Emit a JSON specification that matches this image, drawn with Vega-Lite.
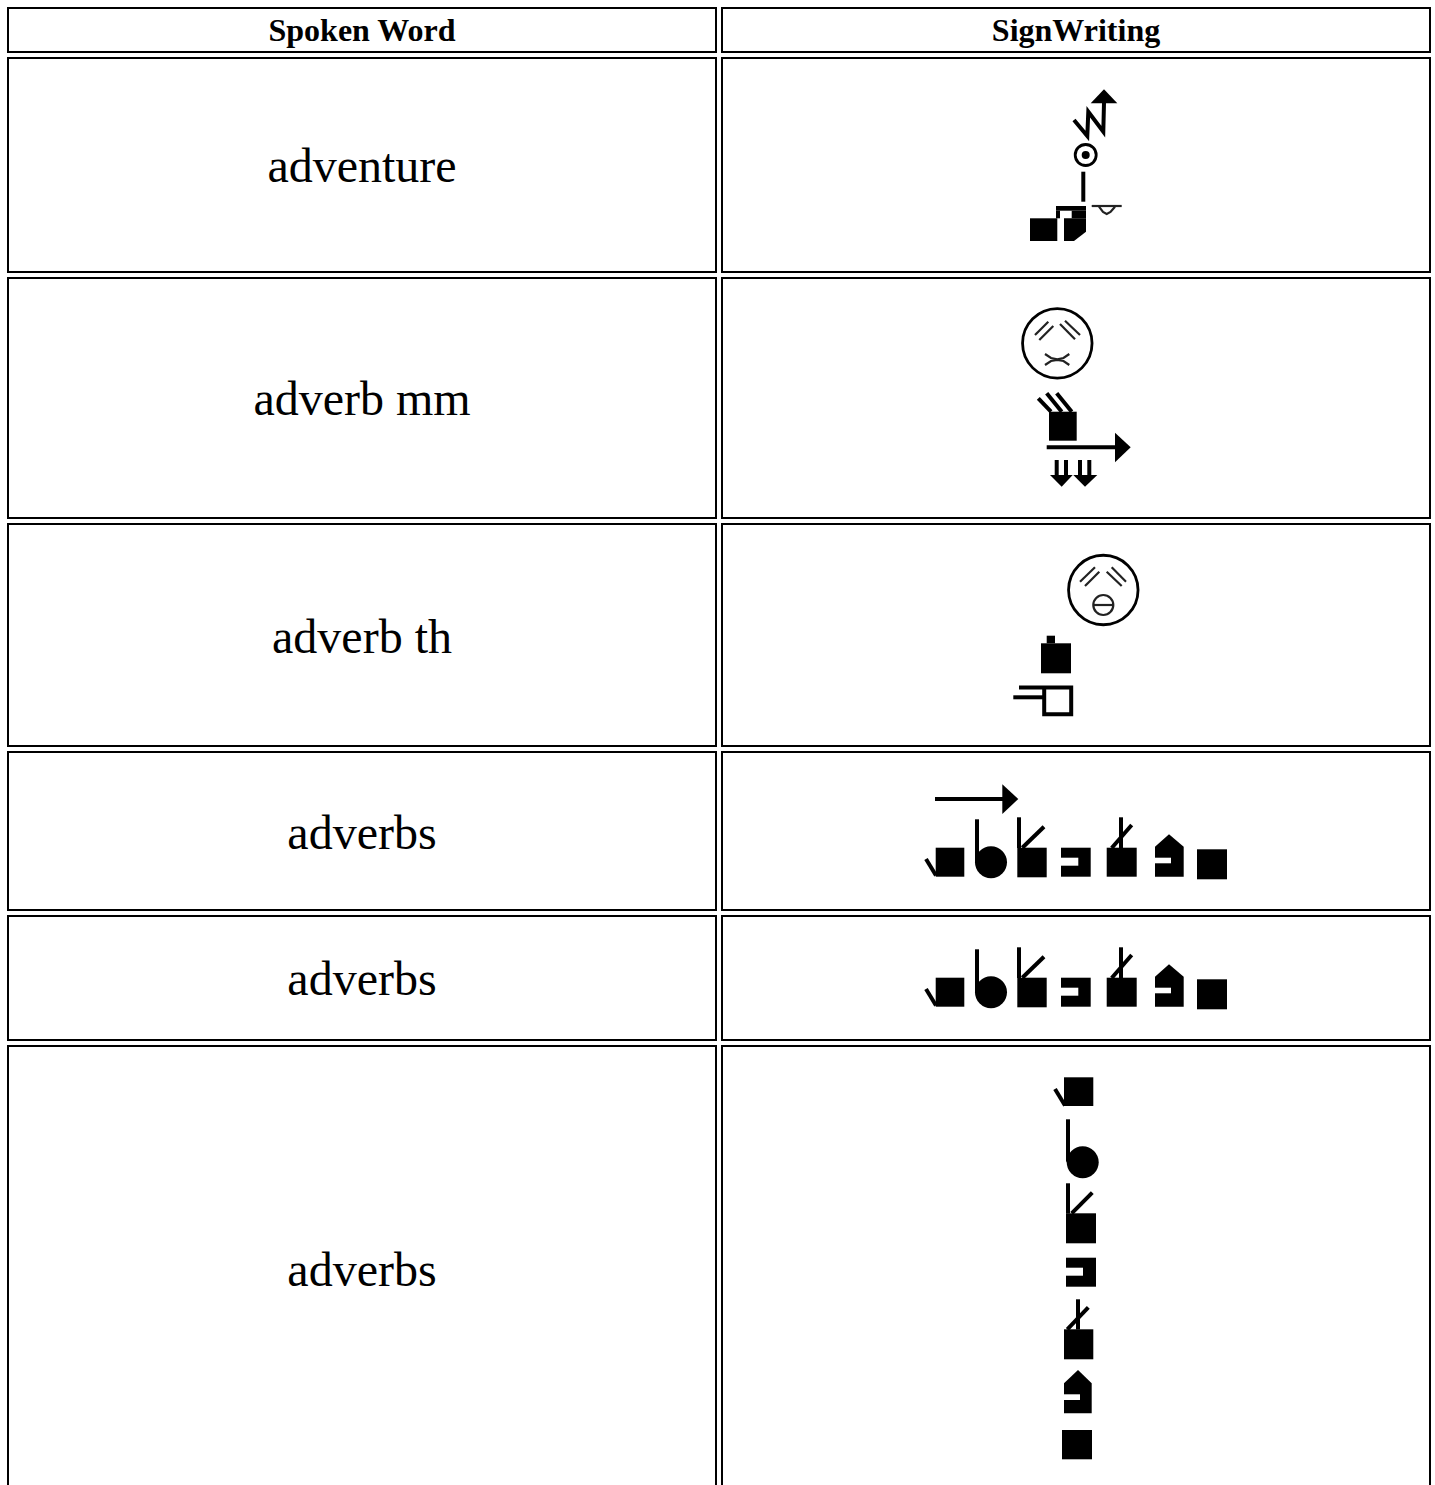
{"$schema":"https://vega.github.io/schema/vega-lite/v6.json","width":1435,"height":1485,"padding":0,"autosize":{"type":"fit","contains":"padding"},"background":"white","view":{"stroke":null},
"datasets":{
"cells":[{"x":8,"x2":716,"y":8,"y2":52},{"x":722,"x2":1430,"y":8,"y2":52},{"x":8,"x2":716,"y":58,"y2":272},{"x":722,"x2":1430,"y":58,"y2":272},{"x":8,"x2":716,"y":278,"y2":518},{"x":722,"x2":1430,"y":278,"y2":518},{"x":8,"x2":716,"y":524,"y2":746},{"x":722,"x2":1430,"y":524,"y2":746},{"x":8,"x2":716,"y":752,"y2":910},{"x":722,"x2":1430,"y":752,"y2":910},{"x":8,"x2":716,"y":916,"y2":1040},{"x":722,"x2":1430,"y":916,"y2":1040},{"x":8,"x2":716,"y":1046,"y2":1520},{"x":722,"x2":1430,"y":1046,"y2":1520}],
"headers":[{"label":"Spoken Word","x":362,"y":41},{"label":"SignWriting","x":1076,"y":41}],
"words":[{"label":"adventure","x":362,"y":182},{"label":"adverb mm","x":362,"y":415},{"label":"adverb th","x":362,"y":653},{"label":"adverbs","x":362,"y":849},{"label":"adverbs","x":362,"y":995},{"label":"adverbs","x":362,"y":1286}],
"ink":[
{"g":"a1","x":1090.7,"y":103.3,"y2":103.3},{"g":"a1","x":1104,"y":89.3,"y2":103.3},{"g":"a1","x":1117.3,"y":103.3,"y2":103.3},
{"g":"a2","x":1030,"y":218.3,"y2":241},{"g":"a2","x":1057.3,"y":218.3,"y2":241},
{"g":"a3","x":1056,"y":206,"y2":210.7},{"g":"a3","x":1086,"y":206,"y2":210.7},
{"g":"a4","x":1056,"y":210.7,"y2":218.3},{"g":"a4","x":1060,"y":210.7,"y2":218.3},
{"g":"a5","x":1071.7,"y":210.7,"y2":218.3},{"g":"a5","x":1086,"y":210.7,"y2":218.3},
{"g":"a6","x":1064,"y":218.3,"y2":241},{"g":"a6","x":1074,"y":218.3,"y2":241},{"g":"a6","x":1086,"y":218.3,"y2":231.7},
{"g":"b1","x":1049,"y":411.7,"y2":440.7},{"g":"b1","x":1076.7,"y":411.7,"y2":440.7},
{"g":"b2","x":1115,"y":432.7,"y2":462.3},{"g":"b2","x":1130.7,"y":447.3,"y2":447.3},
{"g":"b3","x":1050,"y":475,"y2":475},{"g":"b3","x":1061.7,"y":475,"y2":486.7},{"g":"b3","x":1072.7,"y":475,"y2":475},
{"g":"b4","x":1073.3,"y":475,"y2":475},{"g":"b4","x":1085,"y":475,"y2":486.7},{"g":"b4","x":1097.3,"y":475,"y2":475},
{"g":"c1","x":1041,"y":643.3,"y2":673.3},{"g":"c1","x":1071,"y":643.3,"y2":673.3},
{"g":"c2","x":1046.7,"y":635.7,"y2":643.3},{"g":"c2","x":1055,"y":635.7,"y2":643.3},
{"g":"d0","x":1002.3,"y":784.3,"y2":814},{"g":"d0","x":1018.3,"y":799,"y2":799},
{"g":"d1","x":935.7,"y":847.7,"y2":876.7},{"g":"d1","x":964.3,"y":847.7,"y2":876.7},
{"g":"d3","x":1017.3,"y":847.7,"y2":877.3},{"g":"d3","x":1046.7,"y":847.7,"y2":877.3},
{"g":"d4","x":1061,"y":847.7,"y2":876.7},{"g":"d4","x":1090.7,"y":847.7,"y2":876.7},
{"g":"d5","x":1106.7,"y":847.7,"y2":876.7},{"g":"d5","x":1136.7,"y":847.7,"y2":876.7},
{"g":"d6","x":1155,"y":846.7,"y2":876.7},{"g":"d6","x":1169,"y":834.3,"y2":876.7},{"g":"d6","x":1183.7,"y":846.7,"y2":876.7},
{"g":"d7","x":1197,"y":849.3,"y2":879.3},{"g":"d7","x":1227,"y":849.3,"y2":879.3},
{"g":"e1","x":935.7,"y":977.7,"y2":1006.7},{"g":"e1","x":964.3,"y":977.7,"y2":1006.7},
{"g":"e3","x":1017.3,"y":977.7,"y2":1007.3},{"g":"e3","x":1046.7,"y":977.7,"y2":1007.3},
{"g":"e4","x":1061,"y":977.7,"y2":1006.7},{"g":"e4","x":1090.7,"y":977.7,"y2":1006.7},
{"g":"e5","x":1106.7,"y":977.7,"y2":1006.7},{"g":"e5","x":1136.7,"y":977.7,"y2":1006.7},
{"g":"e6","x":1155,"y":976.7,"y2":1006.7},{"g":"e6","x":1169,"y":964.3,"y2":1006.7},{"g":"e6","x":1183.7,"y":976.7,"y2":1006.7},
{"g":"e7","x":1197,"y":979.3,"y2":1009.3},{"g":"e7","x":1227,"y":979.3,"y2":1009.3},
{"g":"f1","x":1064,"y":1077.3,"y2":1106},{"g":"f1","x":1093.3,"y":1077.3,"y2":1106},
{"g":"f3","x":1066,"y":1213.3,"y2":1243.3},{"g":"f3","x":1096,"y":1213.3,"y2":1243.3},
{"g":"f4","x":1066,"y":1257.7,"y2":1286.7},{"g":"f4","x":1096,"y":1257.7,"y2":1286.7},
{"g":"f5","x":1064,"y":1329.3,"y2":1359.3},{"g":"f5","x":1093.3,"y":1329.3,"y2":1359.3},
{"g":"f6","x":1064,"y":1383.3,"y2":1413.3},{"g":"f6","x":1078,"y":1370,"y2":1413.3},{"g":"f6","x":1091.7,"y":1383.3,"y2":1413.3},
{"g":"f7","x":1062,"y":1430,"y2":1459.3},{"g":"f7","x":1092,"y":1430,"y2":1459.3}
],
"paper":[
{"g":"p1","x":1060,"y":857.7,"y2":865.7},{"g":"p1","x":1078.3,"y":857.7,"y2":865.7},
{"g":"p2","x":1154,"y":857.7,"y2":863.3},{"g":"p2","x":1171,"y":857.7,"y2":863.3},
{"g":"p3","x":1060,"y":987.7,"y2":995.7},{"g":"p3","x":1078.3,"y":987.7,"y2":995.7},
{"g":"p4","x":1154,"y":987.7,"y2":993.3},{"g":"p4","x":1171,"y":987.7,"y2":993.3},
{"g":"p5","x":1065,"y":1267.7,"y2":1275.7},{"g":"p5","x":1083,"y":1267.7,"y2":1275.7},
{"g":"p6","x":1063,"y":1394.3,"y2":1400},{"g":"p6","x":1080,"y":1394.3,"y2":1400}
],
"dots":[{"x":1085.7,"y":155}],
"balls":[{"x":991,"y":862.3},{"x":991,"y":992.3},{"x":1082.7,"y":1162.3}],
"eyes":[{"x":1085.7,"y":155}],
"faces":[{"x":1057.3,"y":343.3},{"x":1103.3,"y":590}],
"mouths":[{"x":1103.3,"y":605}],
"heavy":[
{"g":"z","s":0,"x":1074,"y":120},{"g":"z","s":1,"x":1087.3,"y":136},{"g":"z","s":2,"x":1088.3,"y":111.7},{"g":"z","s":3,"x":1103.3,"y":131.7},{"g":"z","s":4,"x":1104,"y":102.7},
{"g":"v","s":0,"x":1083.3,"y":171.7},{"g":"v","s":1,"x":1083.3,"y":201.7},
{"g":"f1","s":0,"x":1038.3,"y":398.3},{"g":"f1","s":1,"x":1051,"y":411.7},
{"g":"f2","s":0,"x":1046.7,"y":393.3},{"g":"f2","s":1,"x":1061.7,"y":411.7},
{"g":"f3","s":0,"x":1056.7,"y":393.3},{"g":"f3","s":1,"x":1071.7,"y":411.7},
{"g":"ar","s":0,"x":1046.7,"y":447.3},{"g":"ar","s":1,"x":1116.7,"y":447.3},
{"g":"s1","s":0,"x":1056.7,"y":460},{"g":"s1","s":1,"x":1056.7,"y":476},
{"g":"s2","s":0,"x":1066,"y":460},{"g":"s2","s":1,"x":1066,"y":476},
{"g":"s3","s":0,"x":1080,"y":460},{"g":"s3","s":1,"x":1080,"y":476},
{"g":"s4","s":0,"x":1089.3,"y":460},{"g":"s4","s":1,"x":1089.3,"y":476},
{"g":"wh","s":0,"x":1019,"y":687.5},{"g":"wh","s":1,"x":1071.2,"y":687.5},{"g":"wh","s":2,"x":1071.2,"y":714.2},{"g":"wh","s":3,"x":1044.2,"y":714.2},{"g":"wh","s":4,"x":1044.2,"y":687.5},
{"g":"wm","s":0,"x":1013.3,"y":697.3},{"g":"wm","s":1,"x":1044,"y":697.3},
{"g":"d0","s":0,"x":935,"y":799},{"g":"d0","s":1,"x":1003.3,"y":799},
{"g":"d1","s":0,"x":926,"y":859},{"g":"d1","s":1,"x":936,"y":875.5},
{"g":"d2","s":0,"x":977,"y":819.3},{"g":"d2","s":1,"x":977,"y":862},
{"g":"d3","s":0,"x":1019,"y":817.3},{"g":"d3","s":1,"x":1019,"y":848},
{"g":"d3b","s":0,"x":1022.3,"y":847.7},{"g":"d3b","s":1,"x":1044,"y":826.7},
{"g":"d5","s":0,"x":1121,"y":817.3},{"g":"d5","s":1,"x":1121,"y":848},
{"g":"d5b","s":0,"x":1111.7,"y":848},{"g":"d5b","s":1,"x":1131.7,"y":825},
{"g":"e1","s":0,"x":926,"y":989},{"g":"e1","s":1,"x":936,"y":1005.5},
{"g":"e2","s":0,"x":977,"y":949.3},{"g":"e2","s":1,"x":977,"y":992},
{"g":"e3","s":0,"x":1019,"y":947.3},{"g":"e3","s":1,"x":1019,"y":978},
{"g":"e3b","s":0,"x":1022.3,"y":977.7},{"g":"e3b","s":1,"x":1044,"y":956.7},
{"g":"e5","s":0,"x":1121,"y":947.3},{"g":"e5","s":1,"x":1121,"y":978},
{"g":"e5b","s":0,"x":1111.7,"y":978},{"g":"e5b","s":1,"x":1131.7,"y":955},
{"g":"g1","s":0,"x":1055,"y":1089},{"g":"g1","s":1,"x":1065,"y":1105.5},
{"g":"g2","s":0,"x":1068,"y":1119.3},{"g":"g2","s":1,"x":1068,"y":1161.7},
{"g":"g3","s":0,"x":1068,"y":1183.3},{"g":"g3","s":1,"x":1068,"y":1213.5},
{"g":"g3b","s":0,"x":1071.7,"y":1213.3},{"g":"g3b","s":1,"x":1092.3,"y":1192.7},
{"g":"g5","s":0,"x":1078,"y":1299.3},{"g":"g5","s":1,"x":1078,"y":1329.5},
{"g":"g5b","s":0,"x":1067.3,"y":1329.3},{"g":"g5b","s":1,"x":1088.3,"y":1307.3}
],
"light":[
{"g":"h","s":0,"x":1091.7,"y":206},{"g":"h","s":1,"x":1121.7,"y":206},
{"g":"arc","s":0,"x":1099,"y":206.7},{"g":"arc","s":1,"x":1103,"y":212},{"g":"arc","s":2,"x":1106.7,"y":214},{"g":"arc","s":3,"x":1110.5,"y":212},{"g":"arc","s":4,"x":1115,"y":206.7},
{"g":"b1","s":0,"x":1035,"y":335},{"g":"b1","s":1,"x":1048.3,"y":321.7},
{"g":"b2","s":0,"x":1039.3,"y":340},{"g":"b2","s":1,"x":1053.3,"y":326},
{"g":"b3","s":0,"x":1060,"y":324},{"g":"b3","s":1,"x":1075,"y":339.3},
{"g":"b4","s":0,"x":1065,"y":320.7},{"g":"b4","s":1,"x":1080,"y":335},
{"g":"m1","s":0,"x":1045,"y":354},{"g":"m1","s":1,"x":1051,"y":358},{"g":"m1","s":2,"x":1057.3,"y":359.3},{"g":"m1","s":3,"x":1063.5,"y":358},{"g":"m1","s":4,"x":1069.3,"y":354},
{"g":"m2","s":0,"x":1045,"y":365},{"g":"m2","s":1,"x":1051,"y":361},{"g":"m2","s":2,"x":1057.3,"y":360},{"g":"m2","s":3,"x":1063.5,"y":361},{"g":"m2","s":4,"x":1069.3,"y":365},
{"g":"c1","s":0,"x":1080,"y":581.7},{"g":"c1","s":1,"x":1095,"y":567.3},
{"g":"c2","s":0,"x":1085,"y":586},{"g":"c2","s":1,"x":1099.3,"y":571.7},
{"g":"c3","s":0,"x":1106.7,"y":571.7},{"g":"c3","s":1,"x":1121.7,"y":586},
{"g":"c4","s":0,"x":1111.7,"y":567.3},{"g":"c4","s":1,"x":1126,"y":581.7},
{"g":"c5","s":0,"x":1093.3,"y":605},{"g":"c5","s":1,"x":1113.3,"y":605}
]},
"encoding":{"x":{"field":"x","type":"quantitative","scale":{"domain":[0,1435],"nice":false,"zero":false},"axis":null},"y":{"field":"y","type":"quantitative","scale":{"domain":[0,1485],"reverse":true,"nice":false,"zero":false},"axis":null}},
"layer":[
{"data":{"name":"cells"},"mark":{"type":"rect","fill":"white","stroke":"black","strokeWidth":2,"clip":true},"encoding":{"x2":{"field":"x2"},"y2":{"field":"y2"}}},
{"data":{"name":"headers"},"mark":{"type":"text","font":"Liberation Serif","fontSize":32,"fontWeight":"bold","align":"center","baseline":"alphabetic","color":"black"},"encoding":{"text":{"field":"label"}}},
{"data":{"name":"words"},"mark":{"type":"text","font":"Liberation Serif","fontSize":48,"align":"center","baseline":"alphabetic","color":"black"},"encoding":{"text":{"field":"label"}}},
{"data":{"name":"ink"},"mark":{"type":"area","color":"black","orient":"vertical"},"encoding":{"y2":{"field":"y2"},"detail":{"field":"g"}}},
{"data":{"name":"paper"},"mark":{"type":"area","color":"white","orient":"vertical"},"encoding":{"y2":{"field":"y2"},"detail":{"field":"g"}}},
{"data":{"name":"dots"},"mark":{"type":"point","shape":"circle","filled":true,"color":"black","opacity":1,"size":64}},
{"data":{"name":"balls"},"mark":{"type":"point","shape":"circle","filled":true,"color":"black","opacity":1,"size":1024}},
{"data":{"name":"eyes"},"mark":{"type":"point","shape":"circle","filled":false,"stroke":"black","strokeWidth":2.8,"opacity":1,"size":441}},
{"data":{"name":"faces"},"mark":{"type":"point","shape":"circle","filled":false,"stroke":"black","strokeWidth":2.8,"opacity":1,"size":4830}},
{"data":{"name":"mouths"},"mark":{"type":"point","shape":"circle","filled":false,"stroke":"#222222","strokeWidth":2.2,"opacity":1,"size":400}},
{"data":{"name":"heavy"},"mark":{"type":"line","color":"black","strokeWidth":4,"strokeCap":"butt"},"encoding":{"detail":{"field":"g"},"order":{"field":"s","type":"quantitative"}}},
{"data":{"name":"light"},"mark":{"type":"line","color":"#222222","strokeWidth":2.2,"strokeCap":"butt"},"encoding":{"detail":{"field":"g"},"order":{"field":"s","type":"quantitative"}}}
]}
